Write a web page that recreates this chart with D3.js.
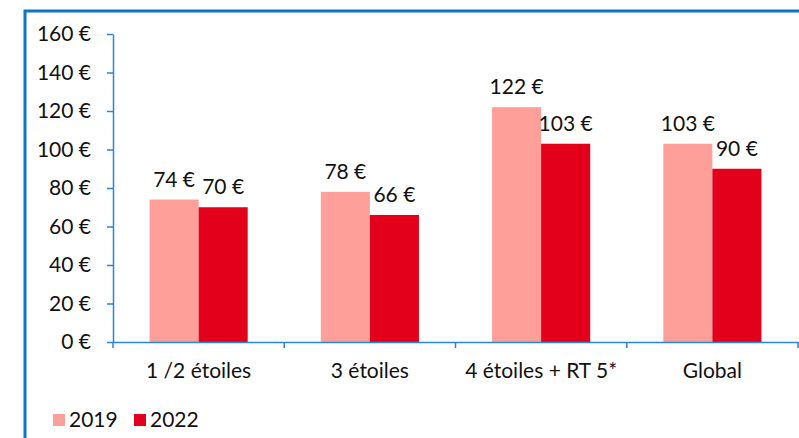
<!DOCTYPE html>
<html lang="fr">
<head>
<meta charset="UTF-8">
<title>Prix moyen</title>
<script src="https://d3js.org/d3.v7.min.js"></script>
<style>
  body { margin: 0; background: #fff; }
  svg { display: block; }
  svg text { font-family: Lato, "Open Sans", sans-serif; }
</style>
</head>
<body>
<div id="chart"></div>
<script>
// donnees
var categories = ["1 /2 étoiles", "3 étoiles", "4 étoiles + RT 5*", "Global"];
var annees = ["2019", "2022"];
var valeurs2019 = [74, 78, 122, 103];
var valeurs2022 = [70, 66, 103, 90];
var yTicks = [0, 20, 40, 60, 80, 100, 120, 140, 160];
var couleurs = {"2019": "#ff9f9a", "2022": "#e2001a"};

var W = 799, H = 438;
var bleu = "#0f74c6";
var taille = 21;

var svg = d3.select("#chart").append("svg")
  .attr("width", W).attr("height", H);

// cadre bleu (haut + gauche)
svg.append("path")
  .attr("d", "M25," + (H + 5) + "V11H" + (W + 5))
  .attr("fill", "none")
  .attr("stroke", bleu)
  .attr("stroke-width", 3);

var x = d3.scaleBand().domain(categories).range([113, 798]).padding(0);
var xSub = d3.scaleBand().domain(annees).range([0, x.bandwidth()])
  .paddingInner(0).paddingOuter(0.745);
var y = d3.scaleLinear().domain([0, 160]).range([342, 34]);

var fmt = function(d) { return d + "\u00a0€"; };

// axe Y
var yAxis = svg.append("g")
  .attr("transform", "translate(113,0)")
  .call(d3.axisLeft(y).tickValues(yTicks).tickSize(6).tickPadding(16).tickFormat(fmt).tickSizeOuter(0));
yAxis.attr("font-family", null).attr("font-size", null);
yAxis.selectAll("line, path").attr("stroke", "#2a86d6").attr("stroke-width", 1.5);
yAxis.selectAll("text").attr("font-size", taille).attr("fill", "#111");

// barres
var data = [];
categories.forEach(function(c, i) {
  data.push({cat: c, an: "2019", v: valeurs2019[i]});
  data.push({cat: c, an: "2022", v: valeurs2022[i]});
});

svg.append("g").selectAll("rect")
  .data(data).enter().append("rect")
  .attr("x", function(d) { return x(d.cat) + xSub(d.an); })
  .attr("y", function(d) { return y(d.v); })
  .attr("width", xSub.bandwidth())
  .attr("height", function(d) { return y(0) - y(d.v); })
  .attr("fill", function(d) { return couleurs[d.an]; });

// etiquettes de valeurs
svg.append("g").selectAll("text")
  .data(data).enter().append("text")
  .attr("x", function(d) { return x(d.cat) + xSub(d.an) + xSub.bandwidth() / 2; })
  .attr("y", function(d) { return y(d.v) - 13; })
  .attr("text-anchor", "middle")
  .attr("font-size", taille)
  .attr("fill", "#111")
  .text(function(d) { return fmt(d.v); });

// axe X
var xAxis = svg.append("g")
  .attr("transform", "translate(0,342)")
  .call(d3.axisBottom(x).tickSize(0).tickPadding(21).tickSizeOuter(0));
xAxis.attr("font-family", null).attr("font-size", null);
xAxis.select("path").attr("stroke", "#2a86d6").attr("stroke-width", 1.5);
xAxis.selectAll("text").attr("font-size", taille).attr("fill", "#111");

// separateurs de categories
var bornes = categories.map(function(c) { return x(c); }).concat([x.range()[1]]);
svg.append("g").selectAll("line")
  .data(bornes).enter().append("line")
  .attr("x1", function(d) { return d; }).attr("x2", function(d) { return d; })
  .attr("y1", 342).attr("y2", 348)
  .attr("stroke", "#2a86d6").attr("stroke-width", 1.5);

// legende
var leg = svg.append("g").selectAll("g")
  .data(annees).enter().append("g")
  .attr("transform", function(d, i) { return "translate(" + (53 + i * 81) + ",414)"; });
leg.append("rect").attr("width", 12).attr("height", 12)
  .attr("fill", function(d) { return couleurs[d]; });
leg.append("text").attr("x", 16).attr("y", 13)
  .attr("font-size", taille).attr("fill", "#111")
  .text(function(d) { return d; });
</script>
</body>
</html>
